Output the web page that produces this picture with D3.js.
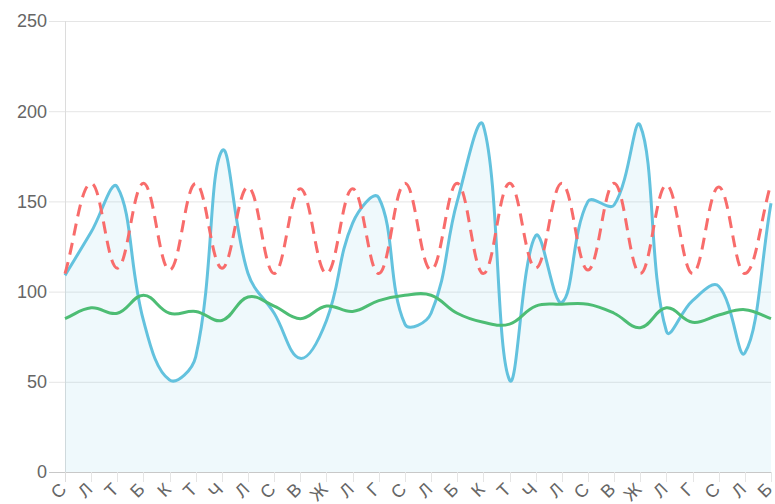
<!DOCTYPE html>
<html>
<head>
<meta charset="utf-8">
<script src="https://cdn.jsdelivr.net/npm/d3@7"></script>
<style>
  html, body { margin: 0; padding: 0; background: #fff; }
  svg { display: block; }
  text { font-family: "Liberation Sans", Arial, Helvetica, sans-serif; fill: #666; }
</style>
</head>
<body>
<svg id="chart" width="775" height="504"></svg>
<script>
// Day-letter labels along the bottom axis
const labels = ["С","Л","Т","Б","К","Т","Ч","Л","С","В","Ж","Л","Г","С",
                "Л","Б","К","Т","Ч","Л","С","В","Ж","Л","Г","С","Л","Б"];

// Filled blue series
const infoValues = [109, 133, 158, 84, 51, 64, 178, 110, 88, 63, 84, 138, 152, 82,
                    88, 150, 192, 51, 131, 94, 150, 148, 192, 78, 95, 103, 66, 149];

// Green series
const successValues = [85, 91, 88, 98, 88, 89, 84, 97, 92, 85, 92, 89, 95, 98,
                       98, 88, 83, 82, 92, 93, 93, 88, 80, 91, 83, 87, 90, 85];

// Dashed red series
const dangerValues = [110, 160, 113, 160, 112, 160, 113, 158, 110, 157, 110, 157, 110, 160,
                      112, 160, 110, 160, 113, 160, 112, 160, 110, 159, 110, 158, 110, 160];

const yTicks = [0, 50, 100, 150, 200, 250];

const svg = d3.select("#chart");
const area = { left: 65, right: 771, top: 21, bottom: 472 };

const x = d3.scalePoint().domain(d3.range(labels.length)).range([area.left, area.right]);
const y = d3.scaleLinear().domain([0, 250]).range([area.bottom, area.top]);

// Bezier spline with tension 0.4 and control points capped to the plot area
function splineCurve(context) {
  return {
    _line: NaN,
    areaStart() { this._line = 0; },
    areaEnd() { this._line = NaN; },
    lineStart() { this._pts = []; },
    point(px, py) { this._pts.push([+px, +py]); },
    lineEnd() {
      const p = this._pts, n = p.length, t = 0.4;
      if (!n) return;
      const cp = p.map((c, i) => {
        const prev = p[Math.max(i - 1, 0)], next = p[Math.min(i + 1, n - 1)];
        const d01 = Math.hypot(c[0] - prev[0], c[1] - prev[1]);
        const d12 = Math.hypot(next[0] - c[0], next[1] - c[1]);
        let s01 = d01 / (d01 + d12), s12 = d12 / (d01 + d12);
        if (!isFinite(s01)) s01 = 0;
        if (!isFinite(s12)) s12 = 0;
        const fa = t * s01, fb = t * s12;
        const cap = (q) => [Math.min(Math.max(q[0], area.left), area.right),
                            Math.min(Math.max(q[1], area.top), area.bottom)];
        return {
          inP: cap([c[0] - fa * (next[0] - prev[0]), c[1] - fa * (next[1] - prev[1])]),
          outP: cap([c[0] + fb * (next[0] - prev[0]), c[1] + fb * (next[1] - prev[1])])
        };
      });
      if (this._line) context.lineTo(p[0][0], p[0][1]);
      else context.moveTo(p[0][0], p[0][1]);
      for (let i = 1; i < n; i++) {
        context.bezierCurveTo(cp[i - 1].outP[0], cp[i - 1].outP[1],
                              cp[i].inP[0], cp[i].inP[1], p[i][0], p[i][1]);
      }
      if (this._line === 1) context.closePath();
      if (!isNaN(this._line)) this._line = 1 - this._line;
    }
  };
}

// Horizontal grid lines, extended left as tick marks
svg.append("g")
  .selectAll("line")
  .data(yTicks)
  .join("line")
  .attr("x1", area.left - 16).attr("x2", area.right)
  .attr("y1", d => y(d) + 0.5).attr("y2", d => y(d) + 0.5)
  .attr("stroke", d => d === 0 ? "#c8c8c8" : "#e5e5e5")
  .attr("stroke-width", 1);

// Vertical tick marks below the x axis
svg.append("g")
  .selectAll("line")
  .data(d3.range(labels.length))
  .join("line")
  .attr("x1", d => Math.round(x(d)) + 0.5).attr("x2", d => Math.round(x(d)) + 0.5)
  .attr("y1", area.bottom).attr("y2", area.bottom + 10)
  .attr("stroke", "#e5e5e5");

// Y axis line
svg.append("line")
  .attr("x1", area.left + 0.5).attr("x2", area.left + 0.5)
  .attr("y1", area.top).attr("y2", area.bottom + 10)
  .attr("stroke", "#dcdcdc");

// Y tick labels
svg.append("g")
  .selectAll("text")
  .data(yTicks)
  .join("text")
  .attr("x", area.left - 18)
  .attr("y", d => y(d))
  .attr("dy", "0.35em")
  .attr("text-anchor", "end")
  .style("font-size", "18px")
  .text(d => d);

// X tick labels, rotated
svg.append("g")
  .selectAll("text")
  .data(labels)
  .join("text")
  .attr("transform", (d, i) => `translate(${x(i) - 2},${area.bottom + 14}) rotate(-45)`)
  .attr("dy", "0.35em")
  .attr("text-anchor", "end")
  .style("font-size", "18px")
  .text(d => d);

const idx = d3.range(labels.length);

// Filled area under the blue series
svg.append("path")
  .datum(idx)
  .attr("d", d3.area().x(i => x(i)).y0(area.bottom).y1(i => y(infoValues[i])).curve(splineCurve))
  .attr("fill", "rgba(99,194,222,0.1)");

const line = (vals) => d3.line().x(i => x(i)).y(i => y(vals[i])).curve(splineCurve);

svg.append("path")
  .datum(idx)
  .attr("d", line(infoValues))
  .attr("fill", "none").attr("stroke", "#63c2de").attr("stroke-width", 3);

svg.append("path")
  .datum(idx)
  .attr("d", line(successValues))
  .attr("fill", "none").attr("stroke", "#4dbd74").attr("stroke-width", 3);

svg.append("path")
  .datum(idx)
  .attr("d", line(dangerValues))
  .attr("fill", "none").attr("stroke", "#f86c6b").attr("stroke-width", 3)
  .attr("stroke-dasharray", "12,7.5");
</script>
</body>
</html>
